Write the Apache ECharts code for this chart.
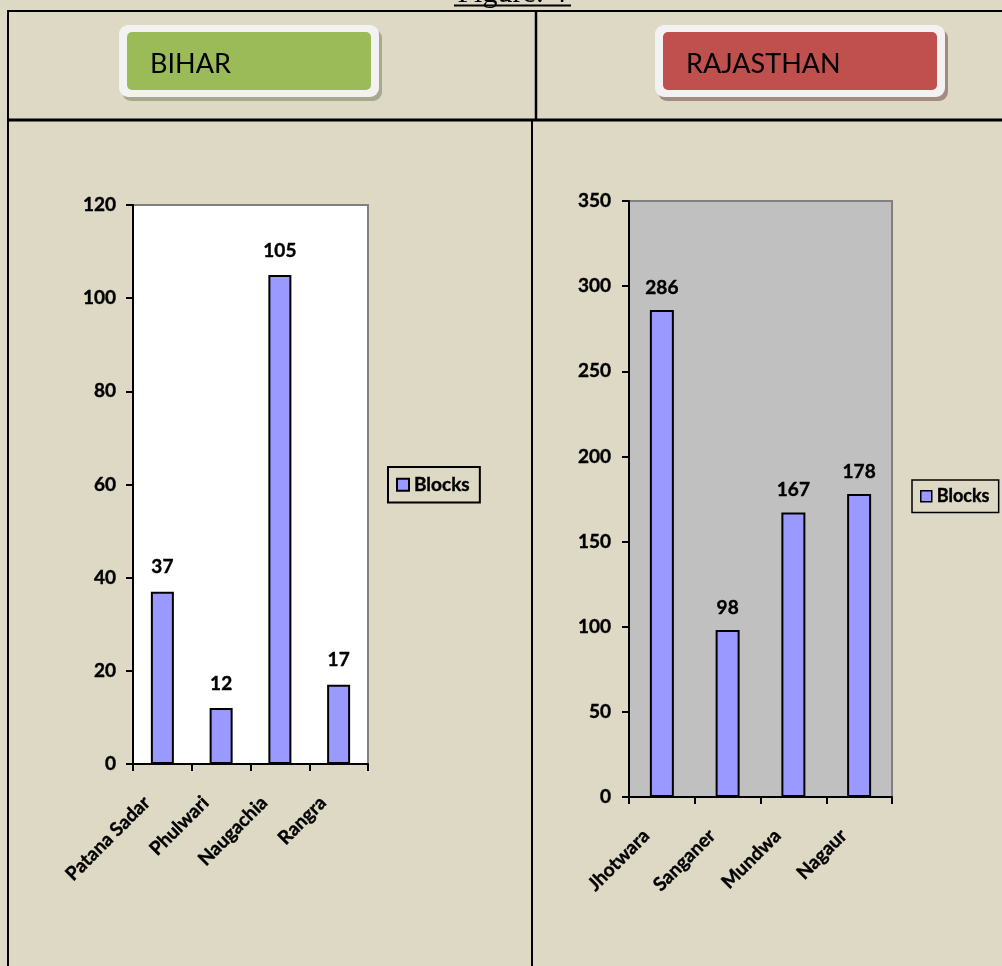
<!DOCTYPE html>
<html>
<head>
<meta charset="utf-8">
<script src="https://cdn.jsdelivr.net/npm/echarts@6/dist/echarts.min.js"></script>
<style>
html,body{margin:0;padding:0;background:#DDD9C4;}
#c{width:1002px;height:966px;}
</style>
</head>
<body>
<div id="c"></div>
<script>
const biharCategories = ['Patana Sadar', 'Phulwari', 'Naugachia', 'Rangra'];
const biharBlocks = [37, 12, 105, 17];
const rajCategories = ['Jhotwara', 'Sanganer', 'Mundwa', 'Nagaur'];
const rajBlocks = [286, 98, 167, 178];
const biharTicks = { min: 0, max: 120, interval: 20 };
const rajTicks = { min: 0, max: 350, interval: 50 };
const seriesName = 'Blocks';
const figureTitle = 'Figure: 4';
const panelTitles = ['BIHAR', 'RAJASTHAN'];

const FONT = 'Lato';
const chart = echarts.init(document.getElementById('c'), null, { renderer: 'canvas' });

const barColor = '#9999FF';
const labelStyle = { color: '#000', fontFamily: FONT, fontWeight: 'bold', fontSize: 19, textBorderColor: '#000', textBorderWidth: 0.4 };

function yAxis(idx, t, margin) {
  return {
    type: 'value', gridIndex: idx, min: t.min, max: t.max, interval: t.interval,
    axisLine: { show: true, lineStyle: { color: '#000', width: 2 } },
    axisTick: { show: true, length: 7, lineStyle: { color: '#000', width: 2 } },
    axisLabel: Object.assign({ margin: margin }, labelStyle),
    splitLine: { show: false }
  };
}
function xAxis(idx, cats) {
  return {
    type: 'category', gridIndex: idx, data: cats,
    axisLine: { show: true, lineStyle: { color: '#000', width: 2 } },
    axisTick: { show: true, length: 7, lineStyle: { color: '#000', width: 2 } },
    axisLabel: Object.assign({ rotate: 45, margin: 20, interval: 0, padding: [0, 22, 0, 0] }, labelStyle)
  };
}
function button(x, y, w, h, fill, shadow, text) {
  return [
    { type: 'rect', shape: { x: x + 3, y: y + 4, width: w, height: h, r: 9 }, style: { fill: shadow } },
    { type: 'rect', shape: { x: x, y: y, width: w, height: h, r: 9 }, style: { fill: '#F2F2F2' } },
    { type: 'rect', shape: { x: x + 8, y: y + 7, width: w - 16, height: h - 14, r: 5 }, style: { fill: fill } },
    { type: 'text', x: x + 31, y: y + 39, style: { text: text, fill: '#000', font: '27px ' + FONT, textVerticalAlign: 'middle' } }
  ];
}
const lineStyle = (w) => ({ stroke: '#000', lineWidth: w });

chart.setOption({
  animation: false,
  graphic: [
    { type: 'text', x: 512, y: 9, style: { text: figureTitle, fill: '#000', font: '30px "Liberation Serif"', textAlign: 'center', textVerticalAlign: 'bottom' } },
    { type: 'line', shape: { x1: 454, y1: 5.5, x2: 571, y2: 5.5 }, style: lineStyle(2) },
    { type: 'line', shape: { x1: 8, y1: 11, x2: 1002, y2: 11 }, style: lineStyle(2) },
    { type: 'line', shape: { x1: 8, y1: 120, x2: 1002, y2: 120 }, style: lineStyle(3) },
    { type: 'line', shape: { x1: 8, y1: 10, x2: 8, y2: 966 }, style: lineStyle(2) },
    { type: 'line', shape: { x1: 536, y1: 11, x2: 536, y2: 120 }, style: lineStyle(2.5) },
    { type: 'line', shape: { x1: 532, y1: 120, x2: 532, y2: 966 }, style: lineStyle(2) },
    ...button(119, 25, 260, 72, '#9BBB59', '#A8A88C', panelTitles[0]),
    ...button(655, 25, 290, 72, '#C0504D', '#A58A82', panelTitles[1])
  ],
  legend: [
    {
      left: 388, top: 467, orient: 'vertical', data: [seriesName],
      padding: [8, 10, 8, 8], borderColor: '#000', borderWidth: 2, backgroundColor: 'transparent',
      itemWidth: 12, itemHeight: 12, itemGap: 4, icon: 'rect',
      itemStyle: { color: barColor, borderColor: '#000', borderWidth: 2 },
      textStyle: labelStyle
    },
    {
      left: 912, top: 480, orient: 'vertical', data: [seriesName],
      padding: [7, 9, 7, 8], borderColor: '#000', borderWidth: 1.5, backgroundColor: 'transparent',
      itemWidth: 11, itemHeight: 11, itemGap: 4, icon: 'rect',
      itemStyle: { color: barColor, borderColor: '#000', borderWidth: 1.5 },
      textStyle: Object.assign({}, labelStyle, { fontSize: 18 })
    }
  ],
  grid: [
    { left: 133, top: 205, width: 235, height: 559, show: true, backgroundColor: '#FFFFFF', borderColor: '#808080', borderWidth: 2, containLabel: false },
    { left: 629, top: 201, width: 263, height: 596, show: true, backgroundColor: '#C0C0C0', borderColor: '#808080', borderWidth: 2, containLabel: false }
  ],
  xAxis: [xAxis(0, biharCategories), xAxis(1, rajCategories)],
  yAxis: [yAxis(0, biharTicks, 17), yAxis(1, rajTicks, 18)],
  series: [
    {
      name: seriesName, type: 'bar', xAxisIndex: 0, yAxisIndex: 0, data: biharBlocks, barWidth: 23,
      itemStyle: { color: barColor, borderColor: '#000', borderWidth: 2 },
      label: Object.assign({ show: true, position: 'top', distance: 15 }, labelStyle)
    },
    {
      name: seriesName, type: 'bar', xAxisIndex: 1, yAxisIndex: 1, data: rajBlocks, barWidth: 24,
      itemStyle: { color: barColor, borderColor: '#000', borderWidth: 2 },
      label: Object.assign({ show: true, position: 'top', distance: 13 }, labelStyle)
    }
  ]
});
</script>
</body>
</html>
